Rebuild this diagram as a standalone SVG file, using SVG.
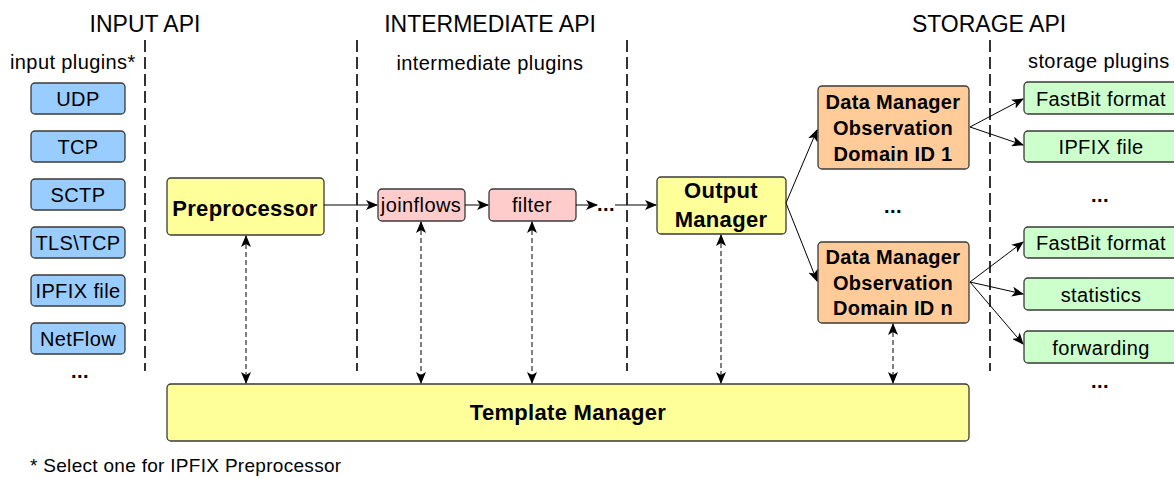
<svg xmlns="http://www.w3.org/2000/svg" width="1174" height="479" viewBox="0 0 1174 479">
<defs>
<style>
text{font-family:"Liberation Sans",Arial,sans-serif;fill:#000}
.hd{font-size:23px;text-anchor:middle}
.lb{font-size:20px;letter-spacing:0.4px}
.c{text-anchor:middle}
.b{font-weight:bold;text-anchor:middle;letter-spacing:0.3px}
.box{stroke:#3a3a3a;stroke-width:1.3}
.blue{fill:#99ccff}.yel{fill:#ffff99}.pink{fill:#ffcccc}.org{fill:#ffcc99}.grn{fill:#ccffcc}
.sep{stroke:#333;stroke-width:2;stroke-dasharray:12 5;fill:none}
.ln{stroke:#000;stroke-width:1;fill:none}
.dl{stroke:#000;stroke-width:1;stroke-dasharray:5 3;fill:none}
</style>
<marker id="ah" viewBox="0 0 12 10" refX="11" refY="5" markerWidth="12" markerHeight="10" markerUnits="userSpaceOnUse" orient="auto-start-reverse">
<path d="M0,0 L12,5 L0,10 L3,5 z" fill="#000"/>
</marker>
</defs>

<g id="headers">
<text class="hd" x="145" y="32">INPUT API</text>
<text class="hd" x="490" y="32">INTERMEDIATE API</text>
<text class="hd" x="989" y="32">STORAGE API</text>
<text class="lb" x="10" y="69">input plugins*</text>
<text class="lb c" x="490" y="70">intermediate plugins</text>
<text class="lb" x="1028" y="68">storage plugins</text>
</g>

<g id="separators">
<line class="sep" x1="145" y1="40" x2="145" y2="371"/>
<line class="sep" x1="357" y1="40" x2="357" y2="371"/>
<line class="sep" x1="627" y1="40" x2="627" y2="371"/>
<line class="sep" x1="990" y1="40" x2="990" y2="371"/>
</g>

<g id="in-udp"><rect class="box blue" x="31" y="83" width="94" height="31" rx="4"/><text class="lb c" x="78" y="106">UDP</text></g>
<g id="in-tcp"><rect class="box blue" x="31" y="131" width="94" height="31" rx="4"/><text class="lb c" x="78" y="154">TCP</text></g>
<g id="in-sctp"><rect class="box blue" x="31" y="179" width="94" height="31" rx="4"/><text class="lb c" x="78" y="202">SCTP</text></g>
<g id="in-tls"><rect class="box blue" x="31" y="227" width="94" height="31" rx="4"/><text class="lb c" x="78" y="250">TLS\TCP</text></g>
<g id="in-ipfix"><rect class="box blue" x="31" y="275" width="94" height="31" rx="4"/><text class="lb c" x="78" y="298">IPFIX file</text></g>
<g id="in-netflow"><rect class="box blue" x="31" y="323" width="94" height="31" rx="4"/><text class="lb c" x="78" y="346">NetFlow</text></g>
<g id="in-more"><text class="lb c" style="font-weight:bold" x="80" y="378">...</text></g>

<g id="preprocessor"><rect class="box yel" x="167" y="178" width="157" height="57" rx="4"/><text class="b" style="font-size:22px" x="245" y="216">Preprocessor</text></g>
<g id="joinflows"><rect class="box pink" x="378" y="189" width="87" height="32" rx="4"/><text class="lb c" x="421" y="212">joinflows</text></g>
<g id="filter"><rect class="box pink" x="489" y="189" width="87" height="32" rx="4"/><text class="lb c" x="532" y="212">filter</text></g>
<g id="inter-more"><text class="lb c" style="font-weight:bold" x="606" y="211">...</text></g>
<g id="output-manager"><rect class="box yel" x="657" y="177" width="129" height="57" rx="4"/><text class="b" style="font-size:22px" x="721" y="198">Output</text><text class="b" style="font-size:22px" x="721" y="227">Manager</text></g>
<g id="dm1"><rect class="box org" x="818" y="86" width="151" height="83" rx="4"/><text class="b" style="font-size:20px" x="893" y="109">Data Manager</text><text class="b" style="font-size:20px" x="893" y="135">Observation</text><text class="b" style="font-size:20px" x="893" y="161">Domain ID 1</text></g>
<g id="dm-more"><text class="lb c" style="font-weight:bold" x="893" y="213">...</text></g>
<g id="dmn"><rect class="box org" x="818" y="242" width="151" height="81" rx="4"/><text class="b" style="font-size:20px" x="893" y="264">Data Manager</text><text class="b" style="font-size:20px" x="893" y="290">Observation</text><text class="b" style="font-size:20px" x="893" y="315">Domain ID n</text></g>

<g id="st-fastbit1"><rect class="box grn" x="1024" y="82" width="156" height="32" rx="4"/><text class="lb c" x="1101" y="106">FastBit format</text></g>
<g id="st-ipfix"><rect class="box grn" x="1024" y="131" width="156" height="31" rx="4"/><text class="lb c" x="1101" y="154">IPFIX file</text></g>
<g id="st-more1"><text class="lb c" style="font-weight:bold" x="1100" y="202">...</text></g>
<g id="st-fastbit2"><rect class="box grn" x="1024" y="227" width="156" height="31" rx="4"/><text class="lb c" x="1101" y="250">FastBit format</text></g>
<g id="st-stats"><rect class="box grn" x="1024" y="278" width="156" height="32" rx="4"/><text class="lb c" x="1101" y="302">statistics</text></g>
<g id="st-fwd"><rect class="box grn" x="1024" y="331" width="156" height="32" rx="4"/><text class="lb c" x="1101" y="355">forwarding</text></g>
<g id="st-more2"><text class="lb c" style="font-weight:bold" x="1100" y="388">...</text></g>

<g id="template-manager"><rect class="box yel" x="167" y="384" width="802" height="57" rx="4"/><text class="b" style="font-size:22px" x="568" y="420">Template Manager</text></g>

<g id="footnote"><text class="lb" style="font-size:19px;letter-spacing:0.3px" x="30" y="472">* Select one for IPFIX Preprocessor</text></g>

<g id="connectors">
<line class="ln" x1="324" y1="205" x2="377" y2="205" marker-end="url(#ah)"/>
<line class="ln" x1="465" y1="205" x2="488" y2="205" marker-end="url(#ah)"/>
<line class="ln" x1="576" y1="205" x2="597" y2="205" marker-end="url(#ah)"/>
<line class="ln" x1="615" y1="205" x2="656" y2="205" marker-end="url(#ah)"/>
<line class="ln" x1="786" y1="203" x2="817" y2="130" marker-end="url(#ah)"/>
<line class="ln" x1="786" y1="203" x2="817" y2="281" marker-end="url(#ah)"/>
<line class="ln" x1="970" y1="127" x2="1023" y2="99" marker-end="url(#ah)"/>
<line class="ln" x1="970" y1="127" x2="1023" y2="145" marker-end="url(#ah)"/>
<line class="ln" x1="970" y1="282" x2="1023" y2="242" marker-end="url(#ah)"/>
<line class="ln" x1="970" y1="282" x2="1023" y2="294" marker-end="url(#ah)"/>
<line class="ln" x1="970" y1="282" x2="1023" y2="344" marker-end="url(#ah)"/>
<line class="dl" x1="246" y1="236" x2="246" y2="383" marker-start="url(#ah)" marker-end="url(#ah)"/>
<line class="dl" x1="421" y1="222" x2="421" y2="383" marker-start="url(#ah)" marker-end="url(#ah)"/>
<line class="dl" x1="532" y1="222" x2="532" y2="383" marker-start="url(#ah)" marker-end="url(#ah)"/>
<line class="dl" x1="721" y1="235" x2="721" y2="383" marker-start="url(#ah)" marker-end="url(#ah)"/>
<line class="dl" x1="893" y1="324" x2="893" y2="383" marker-start="url(#ah)" marker-end="url(#ah)"/>
</g>
</svg>
